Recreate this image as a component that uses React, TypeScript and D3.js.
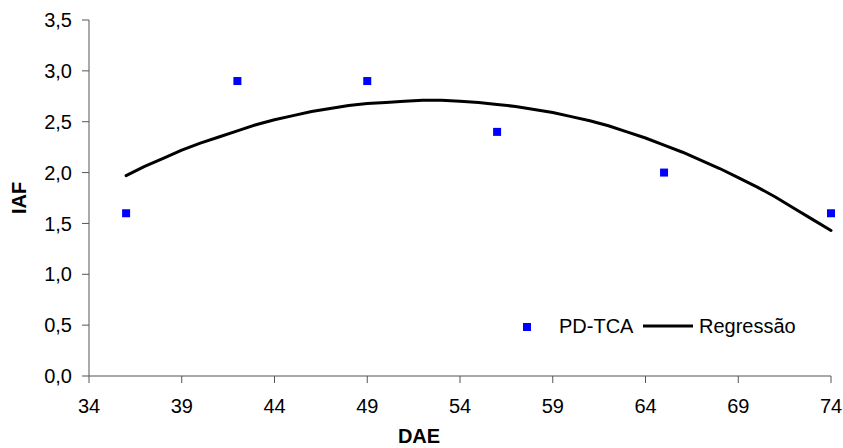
import React from "react";
import * as d3 from "d3";

const obsDAE = [36, 42, 49, 56, 65, 74];
const obsIAF = [1.6, 2.9, 2.9, 2.4, 2.0, 1.6];

const regDAE = [36, 37, 38, 39, 40, 41, 42, 43, 44, 45, 46, 47, 48, 49, 50, 51, 52, 53, 54, 55, 56, 57, 58, 59, 60, 61, 62, 63, 64, 65, 66, 67, 68, 69, 70, 71, 72, 73, 74];
const regIAF = [1.97, 2.06, 2.14, 2.22, 2.29, 2.35, 2.41, 2.47, 2.52, 2.56, 2.6, 2.63, 2.66, 2.68, 2.69, 2.7, 2.71, 2.71, 2.7, 2.69, 2.67, 2.65, 2.62, 2.59, 2.55, 2.51, 2.46, 2.4, 2.34, 2.27, 2.2, 2.12, 2.04, 1.95, 1.86, 1.76, 1.65, 1.54, 1.43];

const xTicks = [34, 39, 44, 49, 54, 59, 64, 69, 74];
const yTicks = [0, 0.5, 1, 1.5, 2, 2.5, 3, 3.5];

const seriesNames = ["PD-TCA", "Regressão"];
const xTitle = "DAE";
const yTitle = "IAF";

export default function App() {
  const W = 843, H = 448;
  const left = 89, right = 831, top = 20, bottom = 376;
  const x = d3.scaleLinear().domain([34, 74]).range([left, right]);
  const y = d3.scaleLinear().domain([0, 3.5]).range([bottom, top]);
  const fmt = (v: number) => v.toFixed(1).replace(".", ",");
  const line = d3
    .line<number>()
    .x((_, i) => x(regDAE[i]))
    .y((d) => y(d));
  const font = "'Liberation Sans', Arial, sans-serif";
  const axisColor = "#555";
  return (
    <svg
      width={W}
      height={H}
      style={{ position: "absolute", left: 0, top: 0, background: "#fff" }}
      fontFamily={font}
    >
      {/* axes */}
      <line x1={left} x2={left} y1={top} y2={bottom} stroke={axisColor} strokeWidth={1} />
      <line x1={left} x2={right} y1={bottom} y2={bottom} stroke={axisColor} strokeWidth={1} />
      {yTicks.map((t) => (
        <g key={"y" + t}>
          <line x1={left - 7} x2={left} y1={y(t)} y2={y(t)} stroke={axisColor} />
          <text x={72} y={y(t)} dy="0.36em" textAnchor="end" fontSize={20} fill="#000">
            {fmt(t)}
          </text>
        </g>
      ))}
      {xTicks.map((t) => (
        <g key={"x" + t}>
          <line x1={x(t)} x2={x(t)} y1={bottom} y2={bottom + 7} stroke={axisColor} />
          <text x={x(t)} y={413} textAnchor="middle" fontSize={20} fill="#000">
            {t}
          </text>
        </g>
      ))}
      {/* titles */}
      <text x={419} y={443} textAnchor="middle" fontSize={20} fontWeight="bold">
        {xTitle}
      </text>
      <text
        transform={`translate(26,${(top + bottom) / 2}) rotate(-90)`}
        textAnchor="middle"
        fontSize={20}
        fontWeight="bold"
      >
        {yTitle}
      </text>
      {/* regression */}
      <path d={line(regIAF) || ""} fill="none" stroke="#000" strokeWidth={3} strokeLinejoin="round" strokeLinecap="round" />
      {/* points */}
      {obsIAF.map((v, i) => (
        <rect key={i} x={x(obsDAE[i]) - 4} y={y(v) - 4} width={8} height={8} fill="#0000ff" />
      ))}
      {/* legend */}
      <rect x={523} y={323} width={8} height={8} fill="#0000ff" />
      <text x={559} y={333} fontSize={20}>{seriesNames[0]}</text>
      <line x1={643} x2={693} y1={326} y2={326} stroke="#000" strokeWidth={3} />
      <text x={699} y={333} fontSize={20}>{seriesNames[1]}</text>
    </svg>
  );
}
